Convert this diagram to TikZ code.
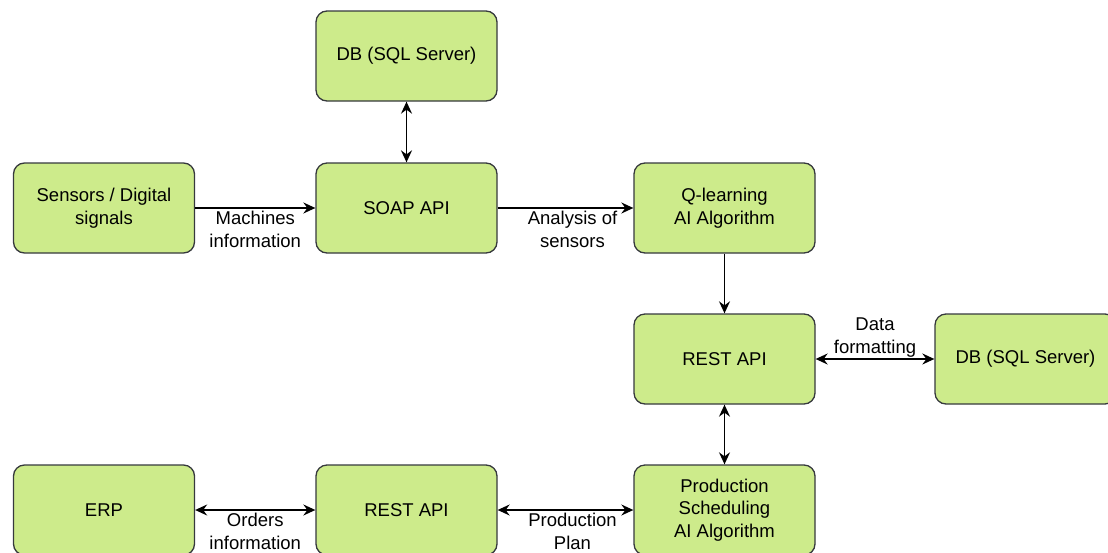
\documentclass[tikz,border=0pt]{standalone}
\usepackage{fontspec}
\setmainfont{Liberation Sans}
\usetikzlibrary{arrows.meta}
\definecolor{boxfill}{HTML}{CDEB8B}
\definecolor{boxline}{HTML}{36393D}
\tikzset{
  block/.style={draw=boxline, fill=boxfill, line width=1.3pt, rounded corners=11pt,
    minimum width=181pt, minimum height=90pt, inner sep=0pt, align=center,
    font=\fontsize{18.5}{22.5}\selectfont},
  tip/.style={arrows={-Stealth[length=12pt,width=11pt,inset=4pt]}},
  link/.style={line width=1.5pt, black, tip},
  dlink/.style={line width=1.5pt, black,
    arrows={Stealth[length=12pt,width=11pt,inset=4pt]-Stealth[length=12pt,width=11pt,inset=4pt]}},
  lbl/.style={inner sep=2.5pt, align=center, font=\fontsize{18.5}{22.5}\selectfont}
}
\begin{document}
\begin{tikzpicture}[x=1pt,y=-1pt]
\useasboundingbox (0,0) rectangle (1108,552);
\node[block] (dbtop) at (406.5,56) {DB (SQL Server)};
\node[block] (sens) at (104,208) {Sensors / Digital\\signals};
\node[block] (soap) at (406.5,208) {SOAP API};
\node[block] (ql) at (724.5,208) {Q-learning\\AI Algorithm};
\node[block] (restm) at (724.5,359) {REST API};
\node[block] (dbr) at (1025.5,359) {DB (SQL Server)};
\node[block] (erp) at (104,510) {ERP};
\node[block] (restb) at (406.5,510) {REST API};
\node[block] (prod) at (724.5,510) {Production\\Scheduling\\AI Algorithm};

\draw[dlink] (dbtop) -- (soap);
\draw[link] (sens) -- node[lbl, below] {Machines\\information} (soap);
\draw[link] (soap) -- node[lbl, below, xshift=7pt] {Analysis of\\sensors} (ql);
\draw[link] (ql) -- (restm);
\draw[dlink] (restm) -- node[lbl, above, inner sep=1pt] {Data\\formatting} (dbr);
\draw[dlink] (restm) -- (prod);
\draw[dlink] (erp) -- node[lbl, below] {Orders\\information} (restb);
\draw[dlink] (restb) -- node[lbl, below, xshift=7pt] {Production\\Plan} (prod);
\end{tikzpicture}
\end{document}
